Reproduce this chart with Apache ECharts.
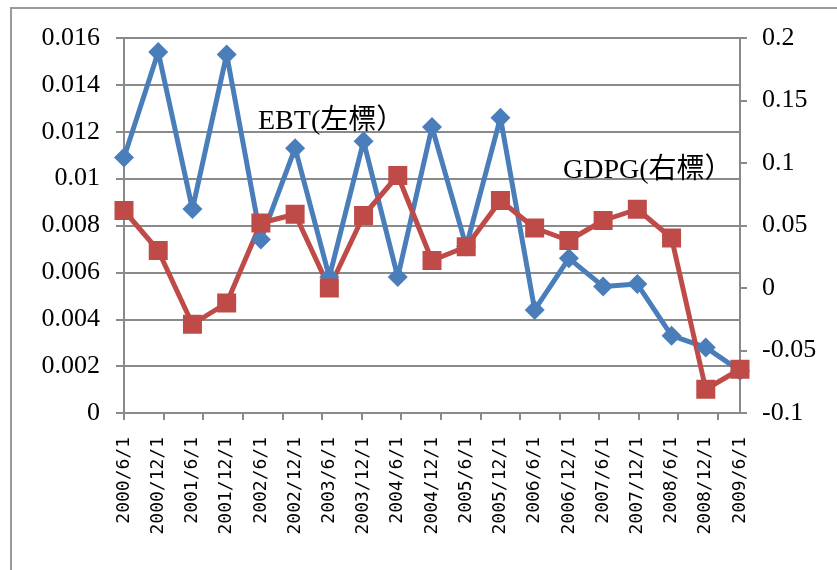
<!DOCTYPE html>
<html>
<head>
<meta charset="utf-8">
<script src="https://cdn.jsdelivr.net/npm/echarts@6/dist/echarts.min.js"></script>
<style>
html,body{margin:0;padding:0;background:#fff;}
#chart{width:837px;height:570px;}
</style>
</head>
<body>
<div id="chart"></div>
<script>
const categories = ['2000/6/1','2000/12/1','2001/6/1','2001/12/1','2002/6/1','2002/12/1','2003/6/1','2003/12/1','2004/6/1','2004/12/1','2005/6/1','2005/12/1','2006/6/1','2006/12/1','2007/6/1','2007/12/1','2008/6/1','2008/12/1','2009/6/1'];
const ebtValues = [0.0109,0.0154,0.0087,0.0153,0.0074,0.0113,0.0058,0.0116,0.0058,0.0122,0.0071,0.0126,0.0044,0.0066,0.0054,0.0055,0.0033,0.0028,0.0018];
const gdpgValues = [0.062,0.030,-0.029,-0.012,0.052,0.059,0.000,0.058,0.090,0.022,0.033,0.070,0.048,0.038,0.054,0.063,0.040,-0.081,-0.065];
const seriesNames = ['EBT(左標）','GDPG(右標）'];
const tickSlots = [0,1,2,3,4,5,6,7,8,9,10,11,12,13,14,15];

const gray = '#8a8a8a';
const serif = "'Liberation Serif','Noto Sans CJK TC'";
const chart = echarts.init(document.getElementById('chart'));
const gridBox = {left: 124, right: 97, top: 38, bottom: 157};
chart.setOption({
  animation: false,
  backgroundColor: '#fff',
  grid: [Object.assign({}, gridBox), Object.assign({}, gridBox)],
  graphic: [
    {type: 'rect', shape: {x: 11, y: 8, width: 900, height: 700}, style: {fill: 'none', stroke: '#9a9a9a', lineWidth: 2}, z: -1},
    {type: 'text', x: 258, y: 122, style: {text: seriesNames[0], font: "28px " + serif, fill: '#000', textVerticalAlign: 'middle'}, z: 100},
    {type: 'text', x: 563, y: 171, style: {text: seriesNames[1], font: "28px " + serif, fill: '#000', textVerticalAlign: 'middle'}, z: 100}
  ],
  xAxis: [
    {
      gridIndex: 0, type: 'category', data: categories, boundaryGap: false, position: 'bottom',
      axisLine: {onZero: false, lineStyle: {color: gray, width: 2}},
      axisTick: {show: false},
      axisLabel: {rotate: 90, margin: 24, fontFamily: 'DejaVu Sans Mono', fontSize: 18, color: '#000', interval: 0}
    },
    {
      gridIndex: 1, type: 'value', min: 0, max: 15.56, interval: 1, position: 'bottom',
      axisLine: {show: false, onZero: false},
      axisTick: {show: true, length: 7, lineStyle: {color: gray, width: 2}, customValues: tickSlots},
      axisLabel: {show: false},
      splitLine: {show: false}
    }
  ],
  yAxis: [
    {
      gridIndex: 0, type: 'value', min: 0, max: 0.016, interval: 0.002, position: 'left',
      axisLine: {show: true, onZero: false, lineStyle: {color: gray, width: 2}},
      axisTick: {show: true, length: 8, lineStyle: {color: gray, width: 2}},
      axisLabel: {margin: 24, fontFamily: serif, fontSize: 26, color: '#000'},
      splitLine: {show: true, lineStyle: {color: gray, width: 2}}
    },
    {
      gridIndex: 0, type: 'value', min: -0.1, max: 0.2, interval: 0.05, position: 'right',
      axisLine: {show: true, onZero: false, lineStyle: {color: gray, width: 2}},
      axisTick: {show: true, length: 7, lineStyle: {color: gray, width: 2}},
      axisLabel: {margin: 22, fontFamily: serif, fontSize: 26, color: '#000'},
      splitLine: {show: false}
    },
    {
      gridIndex: 1, type: 'value', min: 0, max: 1, show: false
    }
  ],
  series: [
    {
      name: seriesNames[0], type: 'line', xAxisIndex: 0, yAxisIndex: 0, data: ebtValues,
      symbol: 'diamond', symbolSize: 20, showAllSymbol: true,
      lineStyle: {color: '#4a7ebb', width: 5},
      itemStyle: {color: '#4a7ebb'}
    },
    {
      name: seriesNames[1], type: 'line', xAxisIndex: 0, yAxisIndex: 1, data: gdpgValues,
      symbol: 'rect', symbolSize: 19, showAllSymbol: true,
      lineStyle: {color: '#be4b48', width: 5},
      itemStyle: {color: '#be4b48'}
    }
  ]
});
</script>
</body>
</html>
